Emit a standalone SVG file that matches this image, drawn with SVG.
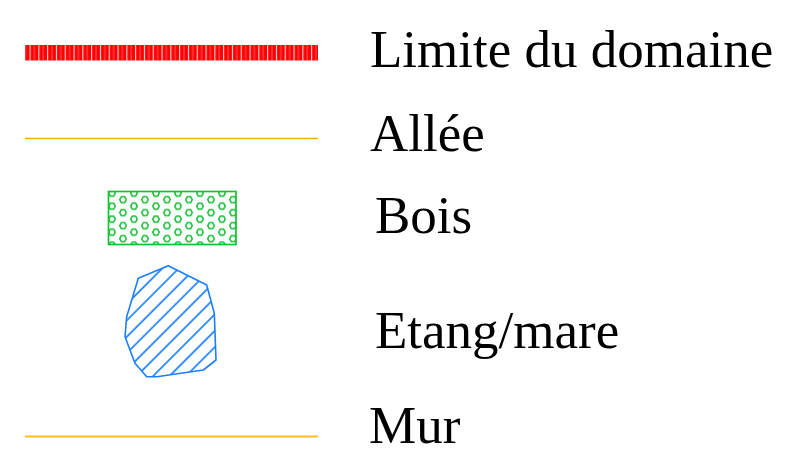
<svg xmlns="http://www.w3.org/2000/svg" width="795" height="473" viewBox="0 0 795 473">
<style>
.lbl{font-family:"Liberation Serif","Times New Roman",serif;font-size:53px;fill:#000}
</style>
<defs>
<pattern id="redp" patternUnits="userSpaceOnUse" x="29.5" y="0" width="8.8" height="20">
<rect x="0" y="0" width="8.8" height="20" fill="#ff0000"/>
<rect x="0" y="0" width="1.1" height="20" fill="#ffffff" opacity="0.85"/>
<rect x="4.4" y="0" width="1" height="20" fill="#ffffff" opacity="0.35"/>
</pattern>
<pattern id="hexp" patternUnits="userSpaceOnUse" x="112" y="193.2" width="22" height="13">
<g fill="none" stroke="#14c034" stroke-width="1.5">
<polygon id="hx" points="3.3,0 1.65,2.9 -1.65,2.9 -3.3,0 -1.65,-2.9 1.65,-2.9"/>
<use href="#hx" x="22"/>
<use href="#hx" y="13"/>
<use href="#hx" x="22" y="13"/>
<use href="#hx" x="11" y="6.5"/>
</g>
</pattern>
<pattern id="hatch" patternUnits="userSpaceOnUse" width="11.6" height="10" patternTransform="rotate(45)">
<line x1="3" y1="-1" x2="3" y2="11" stroke="#1a7fff" stroke-width="1.7"/>
</pattern>
</defs>
<g id="limite">
<rect x="25" y="45" width="293" height="15.5" fill="url(#redp)"/>
<text class="lbl" x="370" y="66.5">Limite du domaine</text>
</g>
<g id="allee">
<line x1="25" y1="138.5" x2="318" y2="138.5" stroke="#f0b400" stroke-width="1.5"/>
<text class="lbl" x="370" y="151">Allée</text>
</g>
<g id="bois">
<rect x="108.5" y="191.5" width="127.5" height="53" fill="url(#hexp)" stroke="#14c034" stroke-width="1.7"/>
<text class="lbl" x="375" y="233">Bois</text>
</g>
<g id="etang">
<polygon points="168.3,265.7 206.7,285 214.3,313.3 216,360 203.3,370 156.7,376.7 146.7,376.7 135,363.3 125,336.7 126.7,316.7 138.3,278.3" fill="url(#hatch)" stroke="#1a7fff" stroke-width="1.6" stroke-linejoin="round"/>
<text class="lbl" x="375" y="348">Etang/mare</text>
</g>
<g id="mur">
<line x1="25" y1="436.5" x2="318" y2="436.5" stroke="#ffc020" stroke-width="2.2"/>
<text class="lbl" x="369" y="443">Mur</text>
</g>
</svg>
